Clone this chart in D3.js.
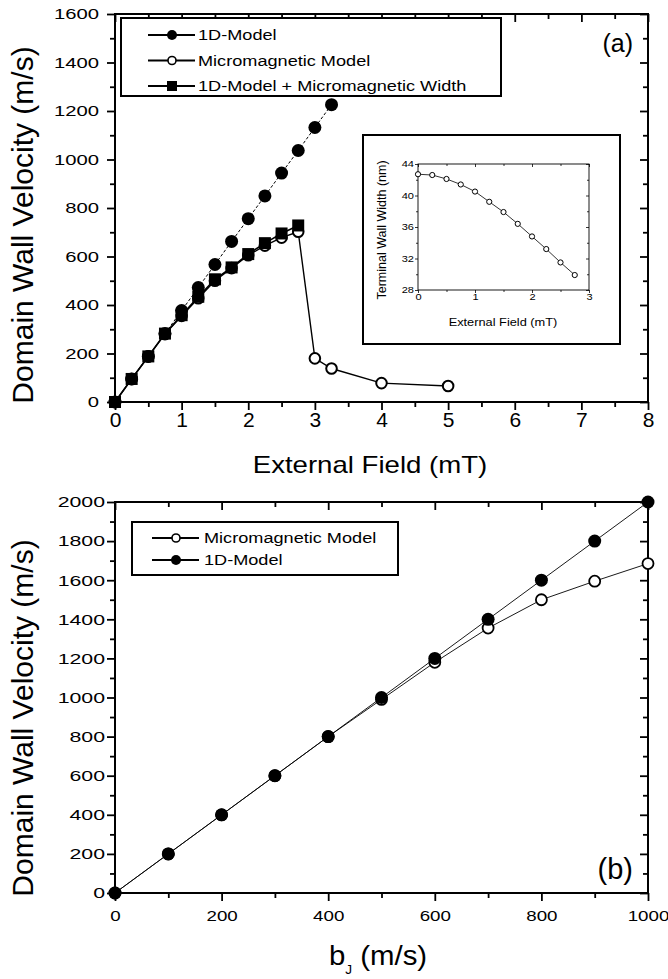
<!DOCTYPE html>
<html>
<head>
<meta charset="utf-8">
<script src="https://cdn.jsdelivr.net/npm/d3@7"></script>
<style>
  html, body { margin: 0; padding: 0; background: #fff; }
</style>
</head>
<body>
<div id="chart"></div>
<script>
// ---- data, panel (a): velocity vs external field ----
const field1D = [0, 0.25, 0.5, 0.75, 1, 1.25, 1.5, 1.75, 2, 2.25, 2.5, 2.75, 3, 3.25];
const vel1D = [0, 95, 188, 282, 377, 472, 567, 662, 756, 850, 944, 1037, 1132, 1226];
const fieldMicro = [0, 0.25, 0.5, 0.75, 1, 1.25, 1.5, 1.75, 2, 2.25, 2.5, 2.75, 3, 3.25, 4, 5];
const velMicro = [0, 95, 188, 280, 355, 428, 500, 552, 605, 645, 678, 702, 180, 138, 78, 66];
const fieldWidth = [0, 0.25, 0.5, 0.75, 1, 1.25, 1.5, 1.75, 2, 2.25, 2.5, 2.75];
const velWidth = [0, 95, 188, 282, 358, 434, 506, 555, 610, 655, 695, 728];

// inset: terminal wall width vs field
const insetField = [0, 0.25, 0.5, 0.75, 1, 1.25, 1.5, 1.75, 2, 2.25, 2.5, 2.75];
const insetWidth = [42.7, 42.6, 42.1, 41.4, 40.5, 39.2, 37.9, 36.4, 34.8, 33.2, 31.5, 29.9];

// ---- data, panel (b): velocity vs b_J ----
const bJ = [0, 100, 200, 300, 400, 500, 600, 700, 800, 900, 1000];
const velB1D = [0, 200, 400, 600, 800, 1000, 1200, 1400, 1600, 1800, 2000];
const velBMicro = [0, 200, 400, 600, 800, 990, 1180, 1355, 1500, 1595, 1685];

// tick values
const xTicksA = [0, 1, 2, 3, 4, 5, 6, 7, 8];
const xMinorA = [0.5, 1.5, 2.5, 3.5, 4.5, 5.5, 6.5, 7.5];
const yTicksA = [0, 200, 400, 600, 800, 1000, 1200, 1400, 1600];
const yMinorA = [100, 300, 500, 700, 900, 1100, 1300, 1500];
const xTicksB = [0, 200, 400, 600, 800, 1000];
const xMinorB = [100, 300, 500, 700, 900];
const yTicksB = [0, 200, 400, 600, 800, 1000, 1200, 1400, 1600, 1800, 2000];
const yMinorB = [100, 300, 500, 700, 900, 1100, 1300, 1500, 1700, 1900];
const xTicksIn = [0, 1, 2, 3];
const xMinorIn = [0.5, 1.5, 2.5];
const yTicksIn = [28, 32, 36, 40, 44];
const yMinorIn = [30, 34, 38, 42];

const FONT = "'Liberation Sans', Arial, Helvetica, sans-serif";

const svg = d3.select("#chart").append("svg")
    .attr("width", 668)
    .attr("height", 979)
    .style("font-family", FONT);

// text that is a bit wider than the font (the scan looks stretched)
function wideText(g, x, y, str, size, sx, anchor) {
    return g.append("text")
        .attr("x", x / sx)
        .attr("y", y)
        .attr("transform", `scale(${sx},1)`)
        .attr("font-size", size)
        .attr("text-anchor", anchor || "start")
        .attr("fill", "#000")
        .text(str);
}

// one set of ticks (major or minor) on one side
function tickSet(g, axis, pos, values, size, tw, fmt, lab) {
    const a = g.append("g")
        .attr("transform", pos)
        .call(axis.tickValues(values).tickSize(size).tickPadding(lab ? lab.pad : 0)
            .tickFormat(fmt || (() => "")));
    a.select(".domain").remove();
    a.selectAll("line").attr("stroke", "#000").attr("stroke-width", tw);
    a.attr("font-family", FONT);
    if (lab) {
        a.selectAll(".tick text")
            .attr("font-size", lab.size)
            .attr("fill", "#000")
            .each(function () {
                const t = d3.select(this);
                const x = +t.attr("x") || 0;
                t.attr("x", x / lab.sx).attr("transform", `scale(${lab.sx},1)`);
            });
    }
    return a;
}

function frame(g, x, y, o) {
    const [x0, x1] = x.range();
    const [y0, y1] = y.range();
    const fmt = d3.format("d");
    // bottom / left: ticks outward, labelled
    tickSet(g, d3.axisBottom(x), `translate(0,${y0})`, o.xMajor, o.maj, o.tw, fmt, o.xLab);
    tickSet(g, d3.axisBottom(x), `translate(0,${y0})`, o.xMinor, o.min, o.tw);
    tickSet(g, d3.axisLeft(y), `translate(${x0},0)`, o.yMajor, o.maj, o.tw, fmt, o.yLab);
    tickSet(g, d3.axisLeft(y), `translate(${x0},0)`, o.yMinor, o.min, o.tw);
    // top / right: mirror ticks inward
    tickSet(g, d3.axisTop(x), `translate(0,${y1})`, o.xMajor, -o.maj, o.tw);
    tickSet(g, d3.axisTop(x), `translate(0,${y1})`, o.xMinor, -o.min, o.tw);
    tickSet(g, d3.axisRight(y), `translate(${x1},0)`, o.yMajor, -o.maj, o.tw);
    tickSet(g, d3.axisRight(y), `translate(${x1},0)`, o.yMinor, -o.min, o.tw);
    g.append("rect")
        .attr("x", x0).attr("y", y1)
        .attr("width", x1 - x0).attr("height", y0 - y1)
        .attr("fill", "none").attr("stroke", "#000").attr("stroke-width", o.frameW);
}

function series(g, x, y, xs, ys, style) {
    const pts = xs.map((d, i) => [d, ys[i]]);
    g.append("path")
        .datum(pts)
        .attr("fill", "none")
        .attr("stroke", "#000")
        .attr("stroke-width", style.lw)
        .attr("stroke-dasharray", style.dash || null)
        .attr("d", d3.line().x(d => x(d[0])).y(d => y(d[1])));
    const m = g.append("g").selectAll().data(pts);
    if (style.marker === "square") {
        m.join("rect")
            .attr("x", d => x(d[0]) - style.size / 2)
            .attr("y", d => y(d[1]) - style.size / 2)
            .attr("width", style.size).attr("height", style.size)
            .attr("fill", "#000");
    } else {
        m.join("circle")
            .attr("cx", d => x(d[0]))
            .attr("cy", d => y(d[1]))
            .attr("r", style.size)
            .attr("fill", style.marker === "open" ? "#fff" : "#000")
            .attr("stroke", "#000")
            .attr("stroke-width", style.marker === "open" ? style.sw : 0);
    }
}

function legendMarker(g, cx, cy, kind) {
    g.append("line").attr("x1", cx - 24).attr("x2", cx + 23).attr("y1", cy).attr("y2", cy)
        .attr("stroke", "#000").attr("stroke-width", 2);
    if (kind === "square") {
        g.append("rect").attr("x", cx - 5).attr("y", cy - 5).attr("width", 10).attr("height", 10).attr("fill", "#000");
    } else if (kind === "open") {
        g.append("circle").attr("cx", cx).attr("cy", cy).attr("r", 4).attr("fill", "#fff")
            .attr("stroke", "#000").attr("stroke-width", 1.6);
    } else {
        g.append("circle").attr("cx", cx).attr("cy", cy).attr("r", 5).attr("fill", "#000");
    }
}

// ================= panel (a) =================
const xA = d3.scaleLinear().domain([0, 8]).range([115, 648]);
const yA = d3.scaleLinear().domain([0, 1600]).range([402, 14]);
const gA = svg.append("g");

frame(gA, xA, yA, {
    xMajor: xTicksA, xMinor: xMinorA, yMajor: yTicksA, yMinor: yMinorA,
    maj: 8, min: 5, tw: 1.8, frameW: 2,
    xLab: { size: 20, sx: 1.05, pad: 3 },
    yLab: { size: 15, sx: 1.35, pad: 8 }
});

series(gA, xA, yA, fieldMicro, velMicro, { lw: 1.4, marker: "open", size: 5.3, sw: 2 });
series(gA, xA, yA, field1D, vel1D, { lw: 1, dash: "3,2", marker: "filled", size: 6.5 });
series(gA, xA, yA, fieldWidth, velWidth, { lw: 1.6, marker: "square", size: 12 });

// legend (a)
gA.append("rect").attr("x", 121).attr("y", 18).attr("width", 380).attr("height", 78)
    .attr("fill", "#fff").attr("stroke", "#000").attr("stroke-width", 2);
const legA = [["1D-Model", "filled"], ["Micromagnetic Model", "open"], ["1D-Model + Micromagnetic Width", "square"]];
legA.forEach((d, i) => {
    const cy = 35 + i * 25.5;
    legendMarker(gA, 172, cy, d[1]);
    wideText(gA, 198, cy + 5.5, d[0], 15.5, 1.17);
});

wideText(gA, 633, 52, "(a)", 25, 1.0, "end");

// axis titles (a)
wideText(gA, 370, 473, "External Field (mT)", 23, 1.2, "middle");
gA.append("text")
    .attr("transform", "translate(33,225) rotate(-90)")
    .attr("text-anchor", "middle")
    .attr("font-size", 30)
    .text("Domain Wall Velocity (m/s)");

// ---- inset ----
gA.append("rect").attr("x", 363).attr("y", 135).attr("width", 257).attr("height", 209)
    .attr("fill", "#fff").attr("stroke", "#000").attr("stroke-width", 2);
const xIn = d3.scaleLinear().domain([0, 3]).range([418, 589]);
const yIn = d3.scaleLinear().domain([28, 44]).range([290, 164]);
const gIn = gA.append("g");
frame(gIn, xIn, yIn, {
    xMajor: xTicksIn, xMinor: xMinorIn, yMajor: yTicksIn, yMinor: yMinorIn,
    maj: 3, min: 2, tw: 0.8, frameW: 0.9,
    xLab: { size: 8.5, sx: 1.3, pad: 1 },
    yLab: { size: 8.5, sx: 1.3, pad: 1 }
});
series(gIn, xIn, yIn, insetField, insetWidth, { lw: 0.8, marker: "open", size: 2.6, sw: 1 });
wideText(gIn, 503, 326, "External Field (mT)", 10, 1.28, "middle");
gIn.append("text")
    .attr("transform", "translate(386,230) rotate(-90)")
    .attr("text-anchor", "middle")
    .attr("font-size", 12.5)
    .text("Terminal Wall Width (nm)");

// ================= panel (b) =================
const xB = d3.scaleLinear().domain([0, 1000]).range([115, 648]);
const yB = d3.scaleLinear().domain([0, 2000]).range([893, 502]);
const gB = svg.append("g");

frame(gB, xB, yB, {
    xMajor: xTicksB, xMinor: xMinorB, yMajor: yTicksB, yMinor: yMinorB,
    maj: 8, min: 5, tw: 1.8, frameW: 2,
    xLab: { size: 15, sx: 1.25, pad: 9 },
    yLab: { size: 15, sx: 1.42, pad: 2 }
});

series(gB, xB, yB, bJ, velBMicro, { lw: 0.9, marker: "open", size: 5.5, sw: 1.8 });
series(gB, xB, yB, bJ, velB1D, { lw: 0.9, marker: "filled", size: 6.5 });

// legend (b)
gB.append("rect").attr("x", 132).attr("y", 522).attr("width", 266).attr("height", 53)
    .attr("fill", "#fff").attr("stroke", "#000").attr("stroke-width", 2);
const legB = [["Micromagnetic Model", "open"], ["1D-Model", "filled"]];
legB.forEach((d, i) => {
    const cy = 538 + i * 22;
    legendMarker(gB, 176, cy, d[1]);
    wideText(gB, 204, cy + 5.5, d[0], 15.5, 1.17);
});

wideText(gB, 633, 879, "(b)", 29, 1.0, "end");

// axis titles (b)
const tB = gB.append("text")
    .attr("x", 378 / 1.05).attr("y", 965)
    .attr("transform", "scale(1.05,1)")
    .attr("text-anchor", "middle")
    .attr("font-size", 28);
tB.append("tspan").text("b");
tB.append("tspan").attr("font-size", 13).attr("dy", 9).text("J");
tB.append("tspan").attr("dy", -9).text(" (m/s)");
gB.append("text")
    .attr("transform", "translate(33,718) rotate(-90)")
    .attr("text-anchor", "middle")
    .attr("font-size", 30)
    .text("Domain Wall Velocity (m/s)");
</script>
</body>
</html>
